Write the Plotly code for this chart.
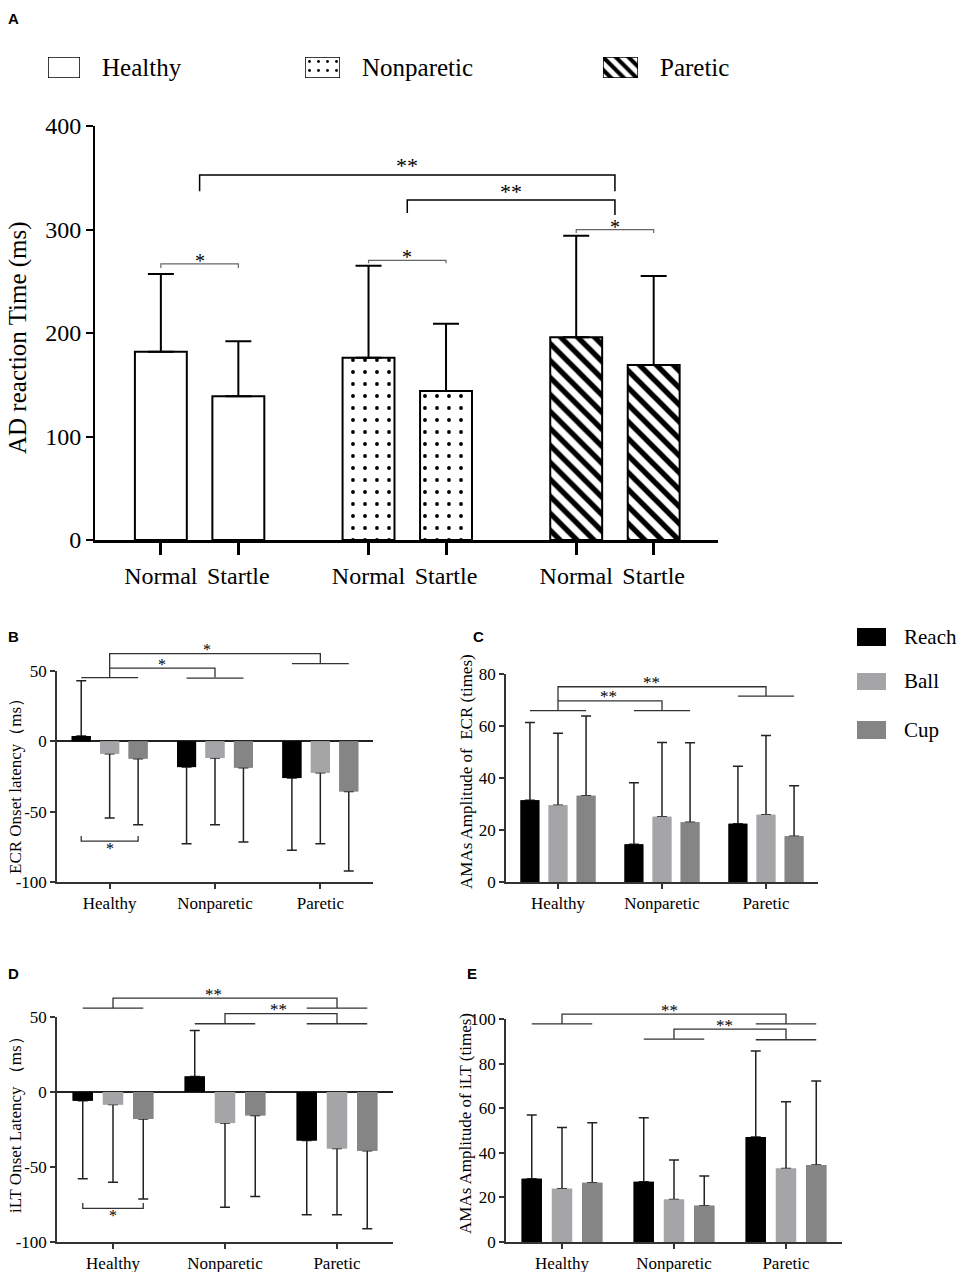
#
#   plot.py
#   AD reaction time / ECR and iLT onset latency and amplitude (panels A-E)
#

import plotly.graph_objects as go

#
#   data
#
groups = ["Healthy", "Nonparetic", "Paretic"]
tasks = ["Reach", "Ball", "Cup"]
task_colors = ["#000000", "#a5a5a8", "#858585"]

# A: AD reaction time (ms)
ad_ticks = ["Normal", "Startle", "Normal", "Startle", "Normal", "Startle"]
ad_mean = [182, 139, 176, 144, 196, 169]
ad_sd = [75, 53, 89, 65, 98, 86]

# B: ECR onset latency (ms)
ecr_lat_reach = [3.8, -18.3, -26.1]
ecr_lat_ball = [-8.8, -11.8, -22.3]
ecr_lat_cup = [-12.3, -18.7, -35.6]
ecr_lat_reach_sd = [39.2, 54.5, 51.4]
ecr_lat_ball_sd = [45.7, 47.5, 50.5]
ecr_lat_cup_sd = [47.0, 52.9, 56.6]

# C: AMAs amplitude of ECR (times)
ecr_amp_reach = [31.4, 14.5, 22.4]
ecr_amp_ball = [29.5, 25.1, 25.9]
ecr_amp_cup = [33.2, 23.0, 17.6]
ecr_amp_reach_sd = [29.9, 23.7, 22.1]
ecr_amp_ball_sd = [27.7, 28.6, 30.4]
ecr_amp_cup_sd = [30.6, 30.6, 19.4]

# D: iLT onset latency (ms)
ilt_lat_reach = [-5.8, 10.4, -32.4]
ilt_lat_ball = [-8.4, -20.7, -37.6]
ilt_lat_cup = [-18.0, -15.6, -39.1]
ilt_lat_reach_sd = [52.0, 30.6, 49.4]
ilt_lat_ball_sd = [51.8, 56.2, 44.2]
ilt_lat_cup_sd = [53.3, 54.0, 52.0]

# E: AMAs amplitude of iLT (times)
ilt_amp_reach = [28.4, 27.0, 47.1]
ilt_amp_ball = [23.9, 19.1, 33.0]
ilt_amp_cup = [26.6, 16.3, 34.5]
ilt_amp_reach_sd = [28.6, 28.7, 38.5]
ilt_amp_ball_sd = [27.4, 17.7, 29.9]
ilt_amp_cup_sd = [26.9, 13.3, 37.7]


#
#   layout helpers
#
W, H = 957, 1272
SERIF = "Liberation Serif"

# pixel boxes of each panel: xd = left/right, yd = top/bottom
panels = {
    "A": dict(ax="", xd=[95, 718], yd=[126, 540], xr=[-0.85, 7.19], yr=[0, 400]),
    "B": dict(ax="2", xd=[57, 373], yd=[671, 882], xr=[-0.5, 2.5], yr=[-100, 50]),
    "C": dict(ax="3", xd=[506, 818], yd=[674, 882], xr=[-0.5, 2.5], yr=[0, 80]),
    "D": dict(ax="4", xd=[57, 393], yd=[1017, 1242], xr=[-0.5, 2.5], yr=[-100, 50]),
    "E": dict(ax="5", xd=[506, 842], yd=[1019, 1242], xr=[-0.5, 2.5], yr=[0, 100]),
}


def xdom(px):
    return [px[0] / W, px[1] / W]


def ydom(px):
    return [1 - px[1] / H, 1 - px[0] / H]


def to_paper(p, x, y):
    c = panels[p]
    x0, x1 = xdom(c["xd"])
    y0, y1 = ydom(c["yd"])
    px = x0 + (x - c["xr"][0]) / (c["xr"][1] - c["xr"][0]) * (x1 - x0)
    py = y0 + (y - c["yr"][0]) / (c["yr"][1] - c["yr"][0]) * (y1 - y0)
    return px, py


shapes = []
annots = []


def bracket(p, pts, color="#333333", width=1.3):
    path = ""
    for i, (x, y) in enumerate(pts):
        px, py = to_paper(p, x, y)
        path += ("M" if i == 0 else "L") + f"{px:.5f},{py:.5f} "
    shapes.append(dict(type="path", path=path.strip(), xref="paper", yref="paper",
                       line=dict(color=color, width=width)))


def star(p, x, y, text, size=16, shift=4):
    px, py = to_paper(p, x, y)
    annots.append(dict(x=px, y=py, xref="paper", yref="paper", text=text, showarrow=False,
                       xanchor="center", yanchor="middle", yshift=shift,
                       font=dict(family=SERIF, size=size, color="black")))


def group_line(p, g, y):
    bracket(p, [(g - 0.27, y), (g + 0.27, y)])


def vtitle(text, x, y, size):
    annots.append(dict(x=x / W, y=1 - y / H, xref="paper", yref="paper", text=text,
                       showarrow=False, textangle=-90, xanchor="center", yanchor="middle",
                       font=dict(family=SERIF, size=size, color="black")))


def label(text, x, y):
    annots.append(dict(x=x / W, y=1 - y / H, xref="paper", yref="paper", text=f"<b>{text}</b>",
                       showarrow=False, xanchor="left", yanchor="middle",
                       font=dict(family="Liberation Sans", size=15, color="black")))


def err(vals, sds, up):
    # error bars point away from zero
    if up:
        return [s if v >= 0 else 0 for v, s in zip(vals, sds)]
    return [0 if v >= 0 else s for v, s in zip(vals, sds)]


fig = go.Figure()

#
#   Panel A
#
ad_pos = [0, 1, 2.68, 3.68, 5.36, 6.36]
ad_shape = ["", "", ".", ".", "\\", "\\"]
ad_psize = [12, 12, 12, 12, 12, 12]
ad_solid = [0.2, 0.2, 0.08, 0.08, 0.45, 0.45]

fig.add_trace(go.Bar(
    x=ad_pos, y=ad_mean, width=0.67, xaxis="x", yaxis="y", showlegend=False,
    marker=dict(color="white", line=dict(color="black", width=2),
                pattern=dict(shape=ad_shape, fgcolor="black", bgcolor="white", fgopacity=1,
                             size=ad_psize, solidity=ad_solid, fillmode="overlay")),
    error_y=dict(type="data", symmetric=False, array=ad_sd, arrayminus=[0] * len(ad_sd),
                 color="black", thickness=2, width=13)))

# legend keys of panel A (one tiny axis per key)
key_box = [[48, 80], [305, 340], [603, 638]]
key_text_x = [100, 360, 658]
for k in range(3):
    n = str(6 + k)
    fig.add_trace(go.Bar(
        x=[0], y=[1], width=[1], xaxis="x" + n, yaxis="y" + n, showlegend=False,
        cliponaxis=False, hoverinfo="skip",
        marker=dict(color="white", line=dict(color="black", width=1.5),
                    pattern=dict(shape=ad_shape[2 * k], fgcolor="black", bgcolor="white", fgopacity=1,
                                 size=9, solidity=ad_solid[2 * k], fillmode="overlay"))))
    fig.update_layout({
        "xaxis" + n: dict(domain=xdom(key_box[k]), range=[-0.5, 0.5], visible=False,
                          fixedrange=True, automargin=False, anchor="y" + n),
        "yaxis" + n: dict(domain=ydom([57, 78]), range=[0, 1], visible=False, fixedrange=True,
                          automargin=False, anchor="x" + n),
    })
    annots.append(dict(x=key_text_x[k] / W, y=1 - 67 / H, xref="paper", yref="paper",
                       text=groups[k], showarrow=False, xanchor="left", yanchor="middle",
                       font=dict(family=SERIF, size=25, color="black")))

# significance brackets in A
g_h, g_n, g_p = 0.5, 3.18, 5.86
bracket("A", [(g_h, 337), (g_h, 352.7), (g_p, 352.7), (g_p, 337)], "black", 1.5)
star("A", (g_h + g_p) / 2, 352.7, "**", 22, 9)
bracket("A", [(g_n, 316), (g_n, 328.5), (g_p, 328.5), (g_p, 314)], "black", 1.5)
star("A", (g_n + g_p) / 2, 328.5, "**", 22, 9)
bracket("A", [(0, 262.8), (0, 266.7), (1, 266.7), (1, 262.8)], "#666666", 1.2)
star("A", 0.5, 266.7, "*", 20, 3)
bracket("A", [(2.68, 267.3), (2.68, 270.2), (3.68, 270.2), (3.68, 267.3)], "#666666", 1.2)
star("A", 3.18, 270.2, "*", 20, 3)
bracket("A", [(5.36, 296.6), (5.36, 299.8), (6.36, 299.8), (6.36, 296.6)], "#666666", 1.2)
star("A", 5.86, 299.8, "*", 20, 3)

#
#   Panels B-E
#
panel_data = {
    "B": [(ecr_lat_reach, ecr_lat_reach_sd), (ecr_lat_ball, ecr_lat_ball_sd), (ecr_lat_cup, ecr_lat_cup_sd)],
    "C": [(ecr_amp_reach, ecr_amp_reach_sd), (ecr_amp_ball, ecr_amp_ball_sd), (ecr_amp_cup, ecr_amp_cup_sd)],
    "D": [(ilt_lat_reach, ilt_lat_reach_sd), (ilt_lat_ball, ilt_lat_ball_sd), (ilt_lat_cup, ilt_lat_cup_sd)],
    "E": [(ilt_amp_reach, ilt_amp_reach_sd), (ilt_amp_ball, ilt_amp_ball_sd), (ilt_amp_cup, ilt_amp_cup_sd)],
}

for p, series in panel_data.items():
    a = panels[p]["ax"]
    for i, (vals, sds) in enumerate(series):
        fig.add_trace(go.Bar(
            x=groups, y=vals, name=tasks[i], xaxis="x" + a, yaxis="y" + a,
            offsetgroup=str(i), showlegend=False,
            marker=dict(color=task_colors[i], line=dict(width=0)),
            error_y=dict(type="data", symmetric=False, array=err(vals, sds, True),
                         arrayminus=err(vals, sds, False), color="#222222", thickness=1.5, width=5)))
    # same bars again on top, so the error-bar foot at the bar end is hidden
    for i, (vals, sds) in enumerate(series):
        fig.add_trace(go.Bar(
            x=groups, y=vals, name=tasks[i], xaxis="x" + a, yaxis="y" + a,
            offsetgroup=str(i), showlegend=False, hoverinfo="skip",
            marker=dict(color=task_colors[i], line=dict(width=0))))

# B brackets
group_line("B", 0, 45.3)
bracket("B", [(0, 45.3), (0, 52.0), (1, 52.0), (1, 45.3)])
group_line("B", 1, 45.0)
bracket("B", [(0, 52.0), (0, 62.4), (2, 62.4), (2, 55.3)])
group_line("B", 2, 55.3)
star("B", 0.92, 62.4, "*")
star("B", 0.5, 52.0, "*")
bracket("B", [(-0.27, -67.3), (-0.27, -70.9), (0.27, -70.9), (0.27, -67.3)])
star("B", 0.0, -70.9, "*", 16, -7)

# C brackets
group_line("C", 0, 65.9)
bracket("C", [(0, 65.9), (0, 69.7), (1, 69.7), (1, 65.9)])
group_line("C", 1, 65.9)
bracket("C", [(0, 69.7), (0, 75.1), (2, 75.1), (2, 71.5)])
group_line("C", 2, 71.5)
star("C", 0.9, 75.1, "**", 17)
star("C", 0.49, 69.7, "**", 17)

# D brackets
group_line("D", 0, 55.9)
bracket("D", [(0, 55.9), (0, 62.6), (2, 62.6), (2, 55.9)])
group_line("D", 2, 55.9)
group_line("D", 1, 45.5)
bracket("D", [(1, 45.5), (1, 52.2), (2, 52.2), (2, 45.5)])
group_line("D", 2, 45.5)
star("D", 0.9, 62.6, "**", 17)
star("D", 1.475, 52.2, "**", 17)
bracket("D", [(-0.27, -74.0), (-0.27, -77.6), (0.27, -77.6), (0.27, -74.0)])
star("D", 0.0, -77.6, "*", 16, -7)

# E brackets
group_line("E", 0, 97.8)
bracket("E", [(0, 97.8), (0, 102.2), (2, 102.2), (2, 97.8)])
group_line("E", 2, 97.8)
group_line("E", 1, 91.0)
bracket("E", [(1, 91.0), (1, 95.5), (2, 95.5), (2, 90.7)])
group_line("E", 2, 90.7)
star("E", 0.96, 102.2, "**", 17)
star("E", 1.455, 95.5, "**", 17)

# legend for Reach / Ball / Cup
leg_y = [[628, 646], [673, 690], [721, 739]]
for i in range(3):
    shapes.append(dict(type="rect", xref="paper", yref="paper",
                       x0=857 / W, x1=886 / W, y0=1 - leg_y[i][1] / H, y1=1 - leg_y[i][0] / H,
                       fillcolor=task_colors[i], line=dict(width=0)))
    annots.append(dict(x=902 / W, y=1 - (leg_y[i][0] + leg_y[i][1]) / 2 / H, xref="paper", yref="paper",
                       text=tasks[i], showarrow=False, xanchor="left", yanchor="middle",
                       font=dict(family=SERIF, size=21, color="black")))

# axis titles and panel letters
vtitle("AD reaction Time (ms)", 18, 338, 25)
vtitle("ECR Onset latency（ms）", 15, 782, 17)
vtitle("AMAs Amplitude of  ECR (times)", 466, 772, 17)
vtitle("iLT Onset Latency （ms）", 15, 1121, 17)
vtitle("AMAs Amplitude of iLT (times)", 465, 1124, 17)
label("A", 6, 18)
label("B", 6, 636)
label("C", 471, 636)
label("D", 6, 973)
label("E", 465, 973)

#
#   axes
#
small_x = dict(showline=True, linecolor="#333333", linewidth=1.5, ticks="outside", ticklen=5,
               tickwidth=1.5, tickcolor="#333333", showgrid=False, zeroline=False, fixedrange=True,
               automargin=False, tickfont=dict(family=SERIF, size=17, color="black"))
small_y = dict(small_x)

for p, c in panels.items():
    if p == "A":
        continue
    a = c["ax"]
    yticks = list(range(c["yr"][0], c["yr"][1] + 1, 50 if c["yr"][0] < 0 else 20))
    fig.update_layout({
        "xaxis" + a: dict(small_x, domain=xdom(c["xd"]), range=c["xr"], anchor="y" + a),
        "yaxis" + a: dict(small_y, domain=ydom(c["yd"]), range=c["yr"], anchor="x" + a,
                          tickvals=yticks, ticktext=[str(t) for t in yticks],
                          zeroline=c["yr"][0] < 0, zerolinecolor="#222222", zerolinewidth=1.5),
    })

cA = panels["A"]
fig.update_layout(
    xaxis=dict(domain=xdom(cA["xd"]), range=cA["xr"], anchor="y", tickvals=ad_pos, ticktext=ad_ticks,
               showline=True, linecolor="black", linewidth=3, ticks="outside", ticklen=12,
               tickwidth=2.5, tickcolor="black", showgrid=False, zeroline=False, fixedrange=True,
               automargin=False, tickfont=dict(family=SERIF, size=24, color="black")),
    yaxis=dict(domain=ydom(cA["yd"]), range=cA["yr"], anchor="x", tickvals=[0, 100, 200, 300, 400],
               showline=True, linecolor="black", linewidth=2, ticks="outside", ticklen=7,
               tickwidth=2, tickcolor="black", showgrid=False, zeroline=False, fixedrange=True,
               automargin=False, tickfont=dict(family=SERIF, size=24, color="black")),
)

fig.update_layout(
    width=W, height=H, margin=dict(l=0, r=0, t=0, b=0, pad=0), autosize=False,
    paper_bgcolor="white", plot_bgcolor="white",
    barmode="group", bargap=0.19, bargroupgap=0.33,
    shapes=shapes, annotations=annots, showlegend=False,
)

fig.write_html("out.html", config={"displayModeBar": False},
               post_script="document.body.style.margin = '0';")
